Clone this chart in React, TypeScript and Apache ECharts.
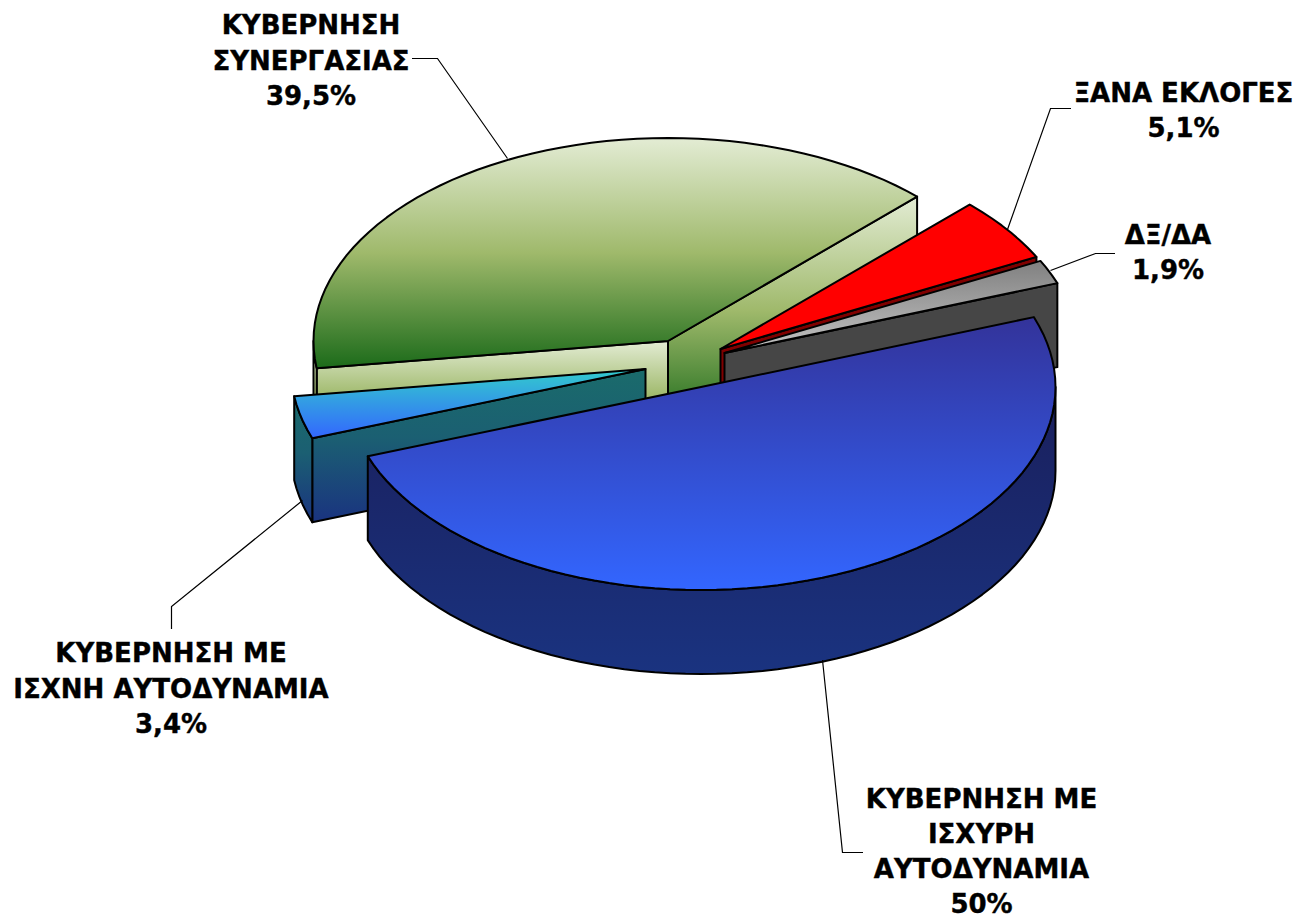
import React, { useEffect, useRef } from "react";
import * as echarts from "echarts";

// Slices in clockwise order, starting from the left edge of the green slice
const sliceNames = [
  "ΚΥΒΕΡΝΗΣΗ\nΣΥΝΕΡΓΑΣΙΑΣ",
  "ΞΑΝΑ ΕΚΛΟΓΕΣ",
  "ΔΞ/ΔΑ",
  "ΚΥΒΕΡΝΗΣΗ ΜΕ\nΙΣΧΥΡΗ\nΑΥΤΟΔΥΝΑΜΙΑ",
  "ΚΥΒΕΡΝΗΣΗ ΜΕ\nΙΣΧΝΗ ΑΥΤΟΔΥΝΑΜΙΑ",
];
const sliceValues = [39.5, 5.1, 1.9, 50, 3.4];
const valueLabels = ["39,5%", "5,1%", "1,9%", "50%", "3,4%"];

// Paint order, back to front
const paintOrder = [0, 1, 2, 4, 3];

// Layout
const START_ANGLE = 187.7;
const RX = 354.5;
const RY = 203;
const DEPTH = 84;
const centers = [
  [668, 341],
  [720.5, 349],
  [724.5, 353],
  [701, 387],
  [645.5, 369],
];
const leaders = [
  [[507.5, 158.5], [437.5, 58.5], [412, 58.5]],
  [[1007.5, 229.5], [1050.5, 108.5], [1071, 108.5]],
  [[1050.5, 270.5], [1095.5, 253.5], [1115, 253.5]],
  [[822.5, 660], [842.5, 852.5], [863, 852.5]],
  [[302.5, 500.5], [171.5, 606.5], [171.5, 629]],
];
const labelPos = [
  [311, 60.5],
  [1183.5, 110.5],
  [1168, 252.5],
  [981.5, 851],
  [171, 688.5],
];
const labelLineHeights = [35.8, 35.8, 35.8, 35, 35.8];

const grad = (stops: [number, string][]) =>
  new echarts.graphic.LinearGradient(0, 0, 0, 1, stops.map(([offset, color]) => ({ offset, color })));

const greenFill = () => grad([[0, "#e3ecd4"], [0.5, "#9fb96b"], [1, "#1c6b1a"]]);
const sliceStyle = [
  { top: greenFill, face: greenFill, wall: greenFill },
  { top: () => "#ff0000", face: () => "#800000", wall: () => "#800000" },
  { top: () => grad([[0, "#808080"], [1, "#c4c4c4"]]), face: () => "#464646", wall: () => "#464646" },
  {
    top: () => grad([[0, "#33339a"], [1, "#3366ff"]]),
    face: () => grad([[0, "#1a1a4d"], [1, "#1a3380"]]),
    wall: () => grad([[0, "#1a1f5c"], [1, "#1a3380"]]),
  },
  {
    top: () => grad([[0, "#33cccc"], [1, "#3366ff"]]),
    face: () => grad([[0, "#1a6b6b"], [0.45, "#1b5f72"], [1, "#1a3380"]]),
    wall: () => grad([[0, "#1a6b6b"], [0.45, "#1b5f72"], [1, "#1a3380"]]),
  },
];

const total = sliceValues.reduce((a, b) => a + b, 0);
const sliceAngles = (() => {
  let a = START_ANGLE;
  return sliceValues.map((v) => {
    const s = a;
    a -= (v / total) * 360;
    return [s, a];
  });
})();

const rad = (d: number) => (d * Math.PI) / 180;

function renderSlice(params: any) {
  const i = paintOrder[params.dataIndex];
  const [s, e] = sliceAngles[i];
  const [cx, cy] = centers[i];
  const st = sliceStyle[i];
  const at = (a: number, dy = 0) => [cx + RX * Math.cos(rad(a)), cy - RY * Math.sin(rad(a)) + dy];

  const samples: number[] = [s];
  for (let a = Math.ceil(s / 2.5) * 2.5 - 2.5; a > e; a -= 2.5) samples.push(a);
  [180, 0].forEach((b) => {
    if (b < s && b > e && !samples.includes(b)) samples.push(b);
  });
  samples.push(e);
  samples.sort((x, y) => y - x);

  const common = { stroke: "#000", lineWidth: 2, lineJoin: "round" };
  const poly = (points: number[][], fill: any) => ({
    type: "polygon",
    shape: { points },
    style: { ...common, fill },
  });
  const children: any[] = [];

  const face = (a: number) =>
    poly([[cx, cy], at(a), at(a, DEPTH), [cx, cy + DEPTH]], st.face());
  if (Math.cos(rad(s)) < 0) children.push(face(s));
  if (Math.cos(rad(e)) > 0) children.push(face(e));

  const front = samples.filter((a) => Math.sin(rad(a)) <= 1e-9);
  if (front.length > 1) {
    const upper = front.map((a) => at(a));
    const lower = front.map((a) => at(a, DEPTH)).reverse();
    children.push(poly([...upper, ...lower], st.wall()));
  }

  children.push(poly([[cx, cy], ...samples.map((a) => at(a))], st.top()));

  children.push({
    type: "polyline",
    shape: { points: leaders[i] },
    style: { stroke: "#000", lineWidth: 1.2, fill: "none" },
  });
  children.push({
    type: "text",
    x: labelPos[i][0],
    y: labelPos[i][1],
    style: {
      text: `${sliceNames[i]}\n${valueLabels[i]}`,
      fontFamily: "DejaVu Sans",
      fontWeight: "bold",
      fontSize: 26,
      lineHeight: labelLineHeights[i],
      fill: "#000",
      stroke: "#000",
      lineWidth: 0.4,
      align: "center",
      verticalAlign: "middle",
    },
  });
  return { type: "group", children };
}

export default function App() {
  const ref = useRef<HTMLDivElement>(null);
  useEffect(() => {
    const chart = echarts.init(ref.current!, undefined, { renderer: "svg" });
    chart.setOption({
      animation: false,
      backgroundColor: "#fff",
      series: [
        {
          type: "custom",
          coordinateSystem: "none",
          renderItem: renderSlice,
          silent: true,
          data: paintOrder.map((i) => ({ name: sliceNames[i], value: sliceValues[i] })),
        },
      ],
    });
    return () => chart.dispose();
  }, []);
  return <div ref={ref} style={{ position: "fixed", left: 0, top: 0, width: 1296, height: 919 }} />;
}
